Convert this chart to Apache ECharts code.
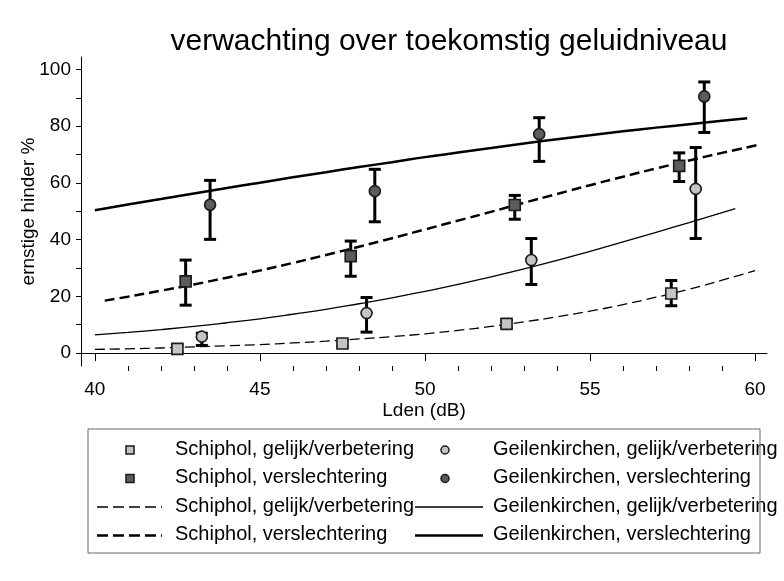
<!DOCTYPE html>
<html>
<head>
<meta charset="utf-8">
<style>
  html, body { margin: 0; padding: 0; background: #fff; }
  #chart { width: 784px; height: 581px; }
</style>
<script src="https://cdn.jsdelivr.net/npm/echarts@6.0.0/dist/echarts.min.js"></script>
</head>
<body>
<div id="chart"></div>
<script>
// observed points: [Lden, % severely annoyed, lower, upper]
const schipholGelijkPts = [[42.5, 1.5, 0.2, 2.8], [47.5, 3.4, 2.3, 4.6], [52.47, 10.3, 9.2, 11.4], [57.46, 21.0, 16.7, 25.6]];
const schipholSlechterPts = [[42.75, 25.3, 16.9, 32.8], [47.75, 34.2, 27.1, 39.5], [52.72, 52.2, 47.2, 55.6], [57.7, 66.0, 60.5, 70.6]];
const geilenGelijkPts = [[43.24, 5.8, 2.7, 7.0], [48.23, 14.1, 7.4, 19.6], [53.22, 32.8, 24.2, 40.4], [58.2, 57.9, 40.4, 72.5]];
const geilenSlechterPts = [[43.49, 52.3, 40.1, 60.9], [48.48, 57.1, 46.3, 64.8], [53.46, 77.2, 67.6, 83.0], [58.46, 90.5, 77.8, 95.6]];

// fitted curves: [Lden, %]
const schipholGelijkFit = [[40, 1.3], [41, 1.5], [42, 1.8], [43, 2.2], [44, 2.6], [45, 3.0], [46, 3.6], [47, 4.2], [48, 5.0], [49, 5.8], [50, 6.8], [51, 8.0], [52, 9.4], [53, 11.0], [54, 12.8], [55, 14.8], [56, 17.1], [57, 19.7], [58, 22.5], [59, 25.7], [60, 29.1]];
const geilenGelijkFit = [[40, 6.4], [41, 7.3], [42, 8.3], [43, 9.4], [44, 10.7], [45, 12.1], [46, 13.7], [47, 15.4], [48, 17.4], [49, 19.5], [50, 21.8], [51, 24.2], [52, 26.9], [53, 29.7], [54, 32.7], [55, 35.9], [56, 39.2], [57, 42.6], [58, 46.0], [59, 49.5], [59.4, 50.9]];
const schipholSlechterFit = [[40.3, 18.5], [41, 19.9], [42, 22.0], [43, 24.2], [44, 26.6], [45, 29.1], [46, 31.8], [47, 34.6], [48, 37.5], [49, 40.5], [50, 43.6], [51, 46.7], [52, 49.8], [53, 53.0], [54, 56.1], [55, 59.2], [56, 62.2], [57, 65.1], [58, 67.9], [59, 70.6], [60.05, 73.3]];
const geilenSlechterFit = [[40, 50.4], [41, 52.4], [42, 54.3], [43, 56.3], [44, 58.2], [45, 60.1], [46, 62.0], [47, 63.8], [48, 65.6], [49, 67.3], [50, 69.1], [51, 70.7], [52, 72.3], [53, 73.9], [54, 75.4], [55, 76.8], [56, 78.2], [57, 79.5], [58, 80.7], [59, 81.9], [59.76, 82.8]];

const xMajorTicks = [40, 45, 50, 55, 60];
const xMinorTicks = [41, 42, 43, 44, 46, 47, 48, 49, 51, 52, 53, 54, 56, 57, 58, 59];
const yTicks = [0, 10, 20, 30, 40, 50, 60, 70, 80, 90, 100];
const yLabels = [0, 20, 40, 60, 80, 100];

const FONT = 'Liberation Sans, Arial, sans-serif';
const LIGHT = '#c4c4c4';
const DARK = '#5c5c5c';
const EDGE = '#1a1a1a';

const chart = echarts.init(document.getElementById('chart'));

const errorBars = (params, api) => {
    const x = api.value(0);
    const lo = api.coord([x, api.value(2)]);
    const hi = api.coord([x, api.value(3)]);
    const w = 6;
    const style = {stroke: '#000', lineWidth: 3};
    return {
        type: 'group',
        children: [
            {type: 'line', shape: {x1: lo[0], y1: lo[1], x2: hi[0], y2: hi[1]}, style},
            {type: 'line', shape: {x1: lo[0] - w, y1: lo[1], x2: lo[0] + w, y2: lo[1]}, style},
            {type: 'line', shape: {x1: hi[0] - w, y1: hi[1], x2: hi[0] + w, y2: hi[1]}, style}
        ]
    };
}

const fitLine = (data, width, dashed) => ({
    type: 'line',
    data: data,
    showSymbol: false,
    symbol: 'none',
    smooth: true,
    silent: true,
    z: 2,
    lineStyle: {color: '#000', width: width, type: dashed ? [10, 5] : 'solid'}
})

const barSeries = (data) => ({
    type: 'custom',
    data: data,
    renderItem: errorBars,
    silent: true,
    z: 3
})

const pointSeries = (data, symbol, fill) => ({
    type: 'scatter',
    data: data.map(d => [d[0], d[1]]),
    symbol: symbol,
    symbolSize: 11,
    silent: true,
    z: 4,
    itemStyle: {color: fill, borderColor: EDGE, borderWidth: 1.6, opacity: 1}
})

// legend drawn by hand: two columns, four rows, framed
const legendRows = [450, 478.5, 507, 535.5];
const legendText = (x, y, text) => ({
    type: 'text', left: x, top: y - 11,
    style: {text: text, fontSize: 20, fontFamily: FONT, fill: '#000'}
});
const legendGraphic = [
    {type: 'rect', shape: {x: 88, y: 429, width: 672, height: 124}, style: {fill: 'none', stroke: '#666', lineWidth: 1}, z: 1},
    {type: 'rect', shape: {x: 126, y: legendRows[0] - 4, width: 8, height: 8}, style: {fill: LIGHT, stroke: EDGE, lineWidth: 1.5}},
    {type: 'rect', shape: {x: 126, y: legendRows[1] - 4, width: 8, height: 8}, style: {fill: DARK, stroke: EDGE, lineWidth: 1.5}},
    {type: 'circle', shape: {cx: 445, cy: legendRows[0], r: 4}, style: {fill: LIGHT, stroke: EDGE, lineWidth: 1.5}},
    {type: 'circle', shape: {cx: 445, cy: legendRows[1], r: 4}, style: {fill: DARK, stroke: EDGE, lineWidth: 1.5}},
    {type: 'line', shape: {x1: 97, y1: legendRows[2], x2: 162, y2: legendRows[2]}, style: {stroke: '#000', lineWidth: 1.3, lineDash: [11, 5]}},
    {type: 'line', shape: {x1: 97, y1: legendRows[3], x2: 162, y2: legendRows[3]}, style: {stroke: '#000', lineWidth: 2.5, lineDash: [11, 5]}},
    {type: 'line', shape: {x1: 415, y1: legendRows[2], x2: 483, y2: legendRows[2]}, style: {stroke: '#000', lineWidth: 1.3}},
    {type: 'line', shape: {x1: 415, y1: legendRows[3], x2: 483, y2: legendRows[3]}, style: {stroke: '#000', lineWidth: 2.5}},
    legendText(175, legendRows[0], 'Schiphol, gelijk/verbetering'),
    legendText(175, legendRows[1], 'Schiphol, verslechtering'),
    legendText(175, legendRows[2], 'Schiphol, gelijk/verbetering'),
    legendText(175, legendRows[3], 'Schiphol, verslechtering'),
    legendText(493, legendRows[0], 'Geilenkirchen, gelijk/verbetering'),
    legendText(493, legendRows[1], 'Geilenkirchen, verslechtering'),
    legendText(493, legendRows[2], 'Geilenkirchen, gelijk/verbetering'),
    legendText(493, legendRows[3], 'Geilenkirchen, verslechtering')
];

chart.setOption({
    animation: false,
    backgroundColor: '#fff',
    textStyle: {fontFamily: FONT},
    title: {
        text: 'verwachting over toekomstig geluidniveau',
        left: 444, top: 22, textAlign: 'center',
        textStyle: {fontSize: 30, fontWeight: 'normal', color: '#000', fontFamily: FONT}
    },
    grid: {left: 81, right: 17, top: 57, bottom: 215, outerBoundsMode: 'none'},
    xAxis: [{
        type: 'value', min: 39.58, max: 60.36, position: 'bottom',
        name: 'Lden (dB)', nameLocation: 'middle', nameGap: 35, nameMoveOverlap: false,
        nameTextStyle: {fontSize: 19, color: '#000', fontFamily: FONT},
        splitLine: {show: false},
        axisLine: {show: true, lineStyle: {color: '#000', width: 1}},
        axisTick: {show: true, length: 8, customValues: xMajorTicks, lineStyle: {color: '#000', width: 1}},
        axisLabel: {customValues: xMajorTicks, fontSize: 19, color: '#000', margin: 14, fontFamily: FONT}
    }, {
        type: 'value', min: 39.58, max: 60.36, position: 'bottom', offset: 0,
        splitLine: {show: false},
        axisLine: {show: false},
        axisTick: {show: true, length: 5, customValues: xMinorTicks, lineStyle: {color: '#000', width: 1}},
        axisLabel: {show: false}
    }],
    yAxis: {
        type: 'value', min: -4.55, max: 104.4,
        name: 'ernstige hinder %', nameLocation: 'middle', nameGap: 43, nameMoveOverlap: false,
        nameTextStyle: {fontSize: 19, color: '#000', fontFamily: FONT},
        splitLine: {show: false},
        axisLine: {show: true, lineStyle: {color: '#000', width: 1}},
        axisTick: {show: true, length: 5, customValues: yTicks, lineStyle: {color: '#000', width: 1}},
        axisLabel: {customValues: yLabels, fontSize: 19, color: '#000', margin: 10, fontFamily: FONT}
    },
    graphic: legendGraphic,
    series: [
        fitLine(schipholGelijkFit, 1.3, true),
        fitLine(geilenGelijkFit, 1.3, false),
        fitLine(schipholSlechterFit, 2.5, true),
        fitLine(geilenSlechterFit, 2.5, false),
        barSeries(schipholGelijkPts),
        barSeries(schipholSlechterPts),
        barSeries(geilenGelijkPts),
        barSeries(geilenSlechterPts),
        pointSeries(schipholGelijkPts, 'rect', LIGHT),
        pointSeries(schipholSlechterPts, 'rect', DARK),
        pointSeries(geilenGelijkPts, 'circle', LIGHT),
        pointSeries(geilenSlechterPts, 'circle', DARK)
    ]
});
</script>
</body>
</html>
